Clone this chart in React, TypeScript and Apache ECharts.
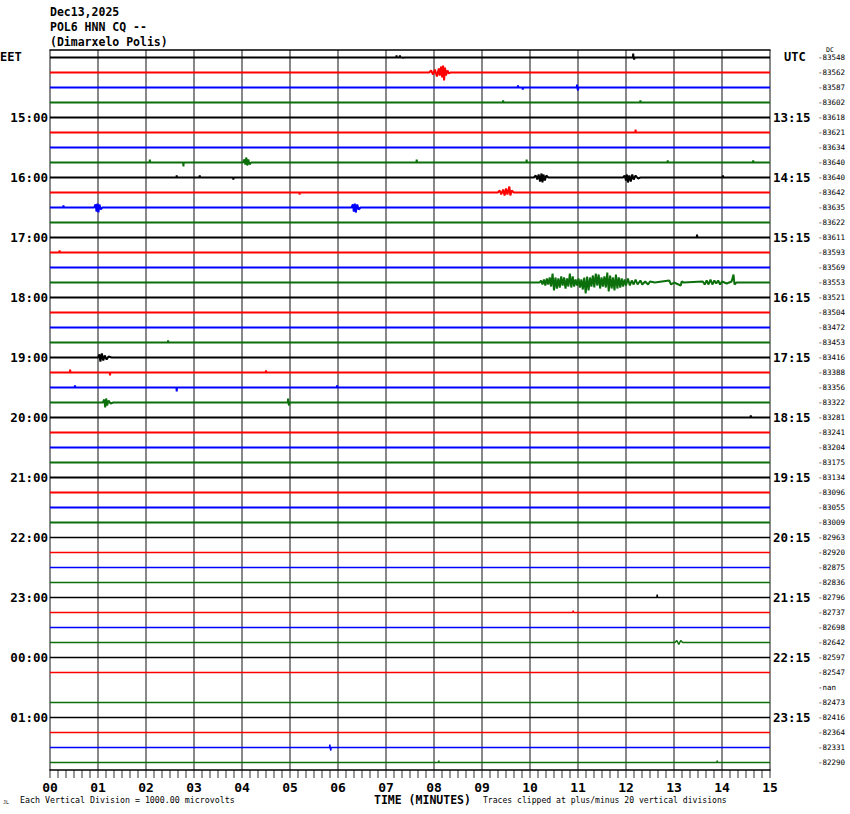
import React, { useEffect, useRef } from "react";
import * as echarts from "echarts";

const HEADER_LINES = ["Dec13,2025", "POL6 HNN CQ --", "(Dimarxelo Polis)"];
const EET_HOURS = ["15:00", "16:00", "17:00", "18:00", "19:00", "20:00", "21:00", "22:00", "23:00", "00:00", "01:00"];
const UTC_HOURS = ["13:15", "14:15", "15:15", "16:15", "17:15", "18:15", "19:15", "20:15", "21:15", "22:15", "23:15"];
const ROW_DC_VALUES = [
  "-83548", "-83562", "-83587", "-83602", "-83618", "-83621", "-83634", "-83640",
  "-83640", "-83642", "-83635", "-83622", "-83611", "-83593", "-83569", "-83553",
  "-83521", "-83504", "-83472", "-83453", "-83416", "-83388", "-83356", "-83322",
  "-83281", "-83241", "-83204", "-83175", "-83134", "-83096", "-83055", "-83009",
  "-82963", "-82920", "-82875", "-82836", "-82796", "-82737", "-82698", "-82642",
  "-82597", "-82547", "-nan", "-82473", "-82416", "-82364", "-82331", "-82290",
];
const TRACE_COLORS = ["#000000", "#ff0000", "#0000ff", "#0b700b"];
const MISSING_ROWS = [42];
const MINUTES = 15;
const TICKS_PER_MINUTE = 6;

// bursts: row index and [minute, deflection (up positive)]
const BURSTS: { row: number; pts: [number, number][] }[] = [
  { row: 1, pts: [[7.9, 0], [7.94, 2], [7.98, -2], [8.02, 3], [8.06, -4], [8.1, 4], [8.12, -3], [8.15, 6], [8.17, -5], [8.19, 7], [8.21, -8], [8.23, 5], [8.25, -3], [8.28, 2], [8.31, -1], [8.34, 0]] },
  { row: 7, pts: [[4.02, 0], [4.05, 3], [4.07, -2], [4.09, 5], [4.11, -3], [4.13, 3], [4.16, -2], [4.19, 0]] },
  { row: 8, pts: [[10.08, 0], [10.12, 2], [10.15, -2], [10.18, 3], [10.21, -4], [10.24, 4], [10.26, -5], [10.28, 3], [10.31, -3], [10.34, 2], [10.38, 0]] },
  { row: 8, pts: [[11.94, 0], [11.97, 2], [12.0, -3], [12.02, 3], [12.04, -5], [12.07, 2], [12.1, -4], [12.13, 3], [12.16, -2], [12.2, 2], [12.25, -1], [12.3, 0]] },
  { row: 9, pts: [[9.33, 0], [9.37, 2], [9.4, -2], [9.44, 3], [9.47, -3], [9.5, 4], [9.53, -2], [9.57, 6], [9.59, -3], [9.62, 2], [9.66, 0]] },
  { row: 10, pts: [[0.92, 0], [0.95, 3], [0.97, -4], [0.99, 4], [1.01, -5], [1.03, 3], [1.06, -2], [1.09, 0]] },
  { row: 10, pts: [[6.28, 0], [6.31, 3], [6.33, -4], [6.35, 4], [6.37, -5], [6.4, 3], [6.43, -2], [6.47, 0]] },
  { row: 15, pts: [
    [10.2, 0], [10.23, 2], [10.26, -2], [10.29, 3], [10.32, -3], [10.35, 4], [10.38, -2], [10.41, 5], [10.44, -4], [10.47, 9], [10.5, -8],
    [10.53, 5], [10.56, -6], [10.59, 4], [10.62, -5], [10.65, 6], [10.68, -3], [10.71, 5], [10.74, -6], [10.77, 4], [10.8, -4], [10.83, 9],
    [10.86, -5], [10.89, 6], [10.92, -4], [10.95, 3], [10.98, -3], [11.01, 4], [11.04, -5], [11.07, 3], [11.1, -7], [11.13, 5], [11.16, -11],
    [11.19, 6], [11.22, -8], [11.25, 5], [11.28, -4], [11.31, 7], [11.34, -5], [11.37, 9], [11.4, -3], [11.43, 8], [11.46, -6], [11.49, 5],
    [11.52, -4], [11.55, 6], [11.58, -5], [11.61, 10], [11.64, -9], [11.67, 7], [11.7, -6], [11.73, 5], [11.76, -8], [11.79, 8], [11.82, -6],
    [11.85, 5], [11.88, -5], [11.91, 4], [11.94, -4], [11.97, 3], [12.0, -3], [12.04, 4], [12.08, -3], [12.12, 2], [12.16, -2], [12.2, 3],
    [12.24, -2], [12.3, 2], [12.34, -2], [12.4, 1], [12.46, -2], [12.5, 1], [12.6, 0], [12.9, 2], [12.94, -2], [13.0, 0], [13.14, -3], [13.16, 1], [13.2, 0],
    [13.6, 1], [13.64, -2], [13.68, 2], [13.72, -2], [13.76, 3], [13.8, -2], [13.84, 2], [13.88, -1], [13.92, 2], [13.96, -2], [14.0, 1],
    [14.1, -1], [14.2, 1], [14.24, 8], [14.26, -2], [14.3, 0],
  ] },
  { row: 20, pts: [[1.0, 0], [1.03, 3], [1.05, -4], [1.08, 4], [1.11, -3], [1.14, 2], [1.18, -2], [1.22, 1], [1.28, 0]] },
  { row: 23, pts: [[1.1, 0], [1.13, 3], [1.15, -5], [1.17, 4], [1.19, -3], [1.22, 2], [1.26, -1], [1.32, 0]] },
  { row: 39, pts: [[13.02, 0], [13.06, 2], [13.1, -2], [13.14, 2], [13.18, 0]] },
];

// single spikes: [row, minute, deflection]
const SPIKES: [number, number, number][] = [
  [0, 7.22, 2], [0, 7.29, 2], [0, 7.36, -1], [0, 12.15, 4], [0, 12.17, -2],
  [2, 9.75, 2], [2, 9.85, -2], [2, 10.98, 3], [2, 11.0, -3],
  [3, 9.44, 2], [3, 12.3, 2],
  [5, 12.2, 3],
  [7, 2.08, 3], [7, 2.78, -4], [7, 7.64, 3], [7, 9.93, 3], [7, 12.87, 2], [7, 14.65, 2],
  [8, 2.64, 2], [8, 3.12, 2], [8, 3.82, -2], [8, 14.02, 2],
  [9, 5.2, -2],
  [10, 0.28, 2],
  [12, 13.48, 3],
  [13, 0.2, 2],
  [19, 2.46, 2],
  [21, 0.42, 3], [21, 1.25, -3], [21, 4.5, 2],
  [22, 0.52, 2], [22, 2.64, -4], [22, 5.98, 2],
  [23, 4.96, 4], [23, 4.98, -3],
  [24, 14.6, 2],
  [36, 12.65, 3],
  [37, 10.9, 2],
  [46, 5.83, 3], [46, 5.85, -3],
  [47, 8.1, 2], [47, 13.9, 2],
];

const ROWS = ROW_DC_VALUES.length;
const ROW_STEP = 15;
const Y_MIN = -(ROWS * ROW_STEP - ROW_STEP / 2);
const Y_MAX = ROW_STEP / 2;

// rows go downward: row i sits at value -i*ROW_STEP
function buildRow(row: number): [number, number][] {
  const base = -row * ROW_STEP;
  const pts: [number, number][] = [];
  BURSTS.filter((b) => b.row === row).forEach((b) => b.pts.forEach((p) => pts.push(p)));
  SPIKES.filter((s) => s[0] === row).forEach((s) => {
    pts.push([s[1] - 0.006, 0], [s[1], s[2]], [s[1] + 0.006, 0]);
  });
  pts.sort((a, b) => a[0] - b[0]);
  const out: [number, number][] = [[0, base]];
  pts.forEach((p) => out.push([p[0], base + p[1]]));
  out.push([MINUTES, base]);
  return out;
}

const MONO = "'DejaVu Sans Mono', 'Liberation Mono', monospace";

export default function App() {
  const ref = useRef<HTMLDivElement>(null);
  useEffect(() => {
    if (!ref.current) return;
    const chart = echarts.init(ref.current, null, { renderer: "svg" });
    const leftLabels: string[] = [];
    const rightLabels: string[] = [];
    for (let i = 0; i < ROWS; i++) {
      const k = i / 4 - 1;
      const isHour = i % 4 === 0 && k >= 0 && k < EET_HOURS.length;
      leftLabels.push(isHour ? EET_HOURS[k] : "");
      rightLabels.push(isHour ? UTC_HOURS[k] : "");
    }
    // category axes run bottom-to-top, so feed them bottom row first
    const leftCats = [...leftLabels].reverse();
    const rightCats = [...rightLabels].reverse();
    const dcCats = [...ROW_DC_VALUES].reverse();
    const series: any[] = [];
    for (let i = 0; i < ROWS; i++) {
      if (MISSING_ROWS.includes(i)) continue;
      series.push({
        type: "line",
        data: buildRow(i),
        showSymbol: false,
        symbol: "none",
        silent: true,
        xAxisIndex: 0,
        yAxisIndex: 0,
        lineStyle: { color: TRACE_COLORS[i % 4], width: i < 32 ? 2 : 1.5 },
        z: 3,
      });
    }
    // 10-second tick marks hanging below the time axis
    const tickData: [number, number][] = [];
    for (let k = 0; k <= MINUTES * TICKS_PER_MINUTE; k++) tickData.push([k / TICKS_PER_MINUTE, Y_MIN]);
    series.push({
      type: "scatter",
      data: tickData,
      symbol: "rect",
      symbolSize: [1, 8],
      symbolOffset: [0, 4],
      clip: false,
      silent: true,
      itemStyle: { color: "#000" },
      xAxisIndex: 0,
      yAxisIndex: 0,
      z: 5,
    });
    const catLabel = {
      fontFamily: MONO,
      fontWeight: "bold",
      fontSize: 12.5,
      color: "#000",
      interval: 0,
    };
    chart.setOption({
      animation: false,
      backgroundColor: "#ffffff",
      grid: { left: 50, right: 80, top: 50, bottom: 44, containLabel: false },
      xAxis: [
        {
          type: "value",
          min: 0,
          max: MINUTES,
          interval: 1,
          position: "bottom",
          axisLine: { show: true, onZero: false, lineStyle: { color: "#000", width: 1.5 } },
          axisTick: { show: false },
          minorTick: { show: false },
          splitLine: { show: true, lineStyle: { color: "#888888", width: 2 } },
          axisLabel: {
            formatter: (v: number) => String(v).padStart(2, "0"),
            fontFamily: MONO,
            fontWeight: "bold",
            fontSize: 13,
            lineHeight: 12,
            color: "#000",
            margin: 11,
          },
        },
        {
          type: "value",
          min: 0,
          max: MINUTES,
          interval: 1,
          position: "top",
          axisLine: { show: true, onZero: false, lineStyle: { color: "#000", width: 1.5 } },
          axisTick: { show: false },
          minorTick: { show: false },
          axisLabel: { show: false },
          splitLine: { show: false },
          minorSplitLine: { show: false },
        },
      ],
      yAxis: [
        {
          type: "value",
          show: false,
          min: Y_MIN,
          max: Y_MAX,
          splitLine: { show: false },
        },
        {
          type: "category",
          position: "left",
          data: leftCats,
          axisLine: { show: false },
          axisTick: { show: false },
          splitLine: { show: false },
          axisLabel: { ...catLabel, margin: 2 },
        },
        {
          type: "category",
          position: "right",
          data: rightCats,
          axisLine: { show: false },
          axisTick: { show: false },
          splitLine: { show: false },
          axisLabel: { ...catLabel, margin: 3 },
        },
        {
          type: "category",
          position: "right",
          offset: 46,
          data: dcCats,
          axisLine: { show: false },
          axisTick: { show: false },
          splitLine: { show: false },
          axisLabel: { fontFamily: MONO, fontSize: 7.5, color: "#000", margin: 2, interval: 0 },
        },
      ],
      graphic: [
        ...HEADER_LINES.map((t, i) => ({
          type: "text",
          x: 50,
          y: 12 + i * 15,
          style: { text: t, fill: "#000", font: `bold 11.5px ${MONO}`, textVerticalAlign: "middle" },
        })),
        { type: "text", x: 0, y: 57, style: { text: "EET", fill: "#000", font: `bold 12px ${MONO}`, textVerticalAlign: "middle" } },
        { type: "text", x: 784, y: 57, style: { text: "UTC", fill: "#000", font: `bold 12px ${MONO}`, textVerticalAlign: "middle" } },
        { type: "text", x: 826, y: 50, style: { text: "DC", fill: "#000", font: `6.5px ${MONO}`, textVerticalAlign: "middle" } },
        { type: "text", x: 374, y: 800, style: { text: "TIME (MINUTES)", fill: "#000", font: `bold 11.5px ${MONO}`, textVerticalAlign: "middle", lineHeight: 11 } },
        { type: "text", x: 3, y: 802, style: { text: "JL", fill: "#000", font: `5px ${MONO}`, textVerticalAlign: "middle" } },
        { type: "text", x: 20, y: 800, style: { text: "Each Vertical Division = 1000.00 microvolts", fill: "#000", font: `8.3px ${MONO}`, textVerticalAlign: "middle" } },
        { type: "text", x: 483, y: 800, style: { text: "Traces clipped at plus/minus 20 vertical divisions", fill: "#000", font: `8.1px ${MONO}`, textVerticalAlign: "middle" } },
      ],
      series,
    });
    return () => chart.dispose();
  }, []);
  return <div ref={ref} style={{ position: "absolute", left: 0, top: 0, width: 850, height: 814 }} />;
}
